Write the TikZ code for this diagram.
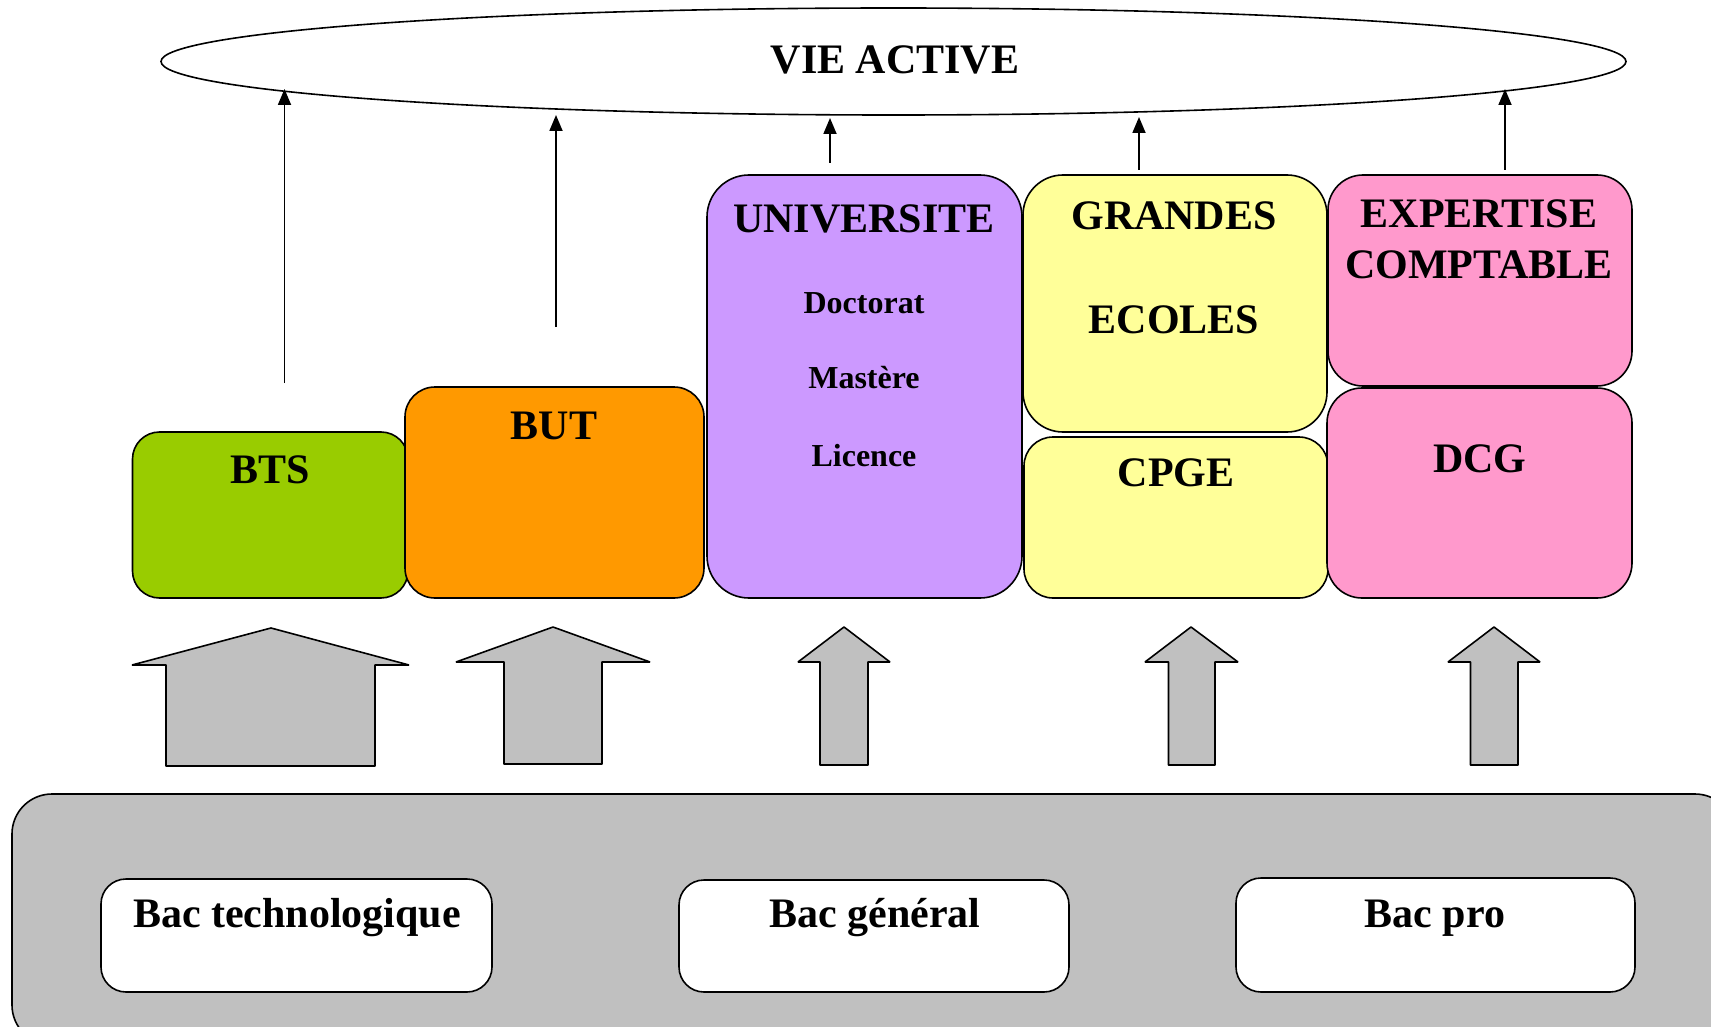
\documentclass[tikz,border=0pt]{standalone}
\usepackage{fontspec}
\setmainfont{Liberation Serif}
\usetikzlibrary{shapes.geometric,arrows.meta}
\definecolor{cgreen}{HTML}{99CC00}
\definecolor{corange}{HTML}{FF9900}
\definecolor{cpurple}{HTML}{CC99FF}
\definecolor{cyellow}{HTML}{FFFF99}
\definecolor{cpink}{HTML}{FF99CC}
\definecolor{cgray}{HTML}{C0C0C0}
\tikzset{
  rbox/.style={draw, line width=1.6pt, rounded corners=#1, inner sep=0pt},
  ttl/.style={font=\fontsize{42}{48}\selectfont\bfseries, anchor=base, inner sep=0pt},
  subttl/.style={font=\fontsize{32}{36}\selectfont\bfseries, anchor=base, inner sep=0pt},
  blk/.style={fill=cgray, draw, line width=1.6pt, line join=bevel},
  thinarrow/.style={line width=1.8pt, -{Triangle[length=16pt,width=13pt]}}
}
\begin{document}
\begin{tikzpicture}[x=1pt,y=-1pt]
\useasboundingbox (0,0) rectangle (1711,1027);
\clip (0,0) rectangle (1711,1027);
% top ellipse
\node[draw, ellipse, line width=1.6pt, minimum width=1465pt, minimum height=107pt, inner sep=0pt] (vie) at (893.5,61.5) {};
\node[ttl] (vietxt) at (895,74) {VIE ACTIVE};
% upper boxes
\node[rbox=27pt, fill=cgreen, minimum width=275.5pt, minimum height=166pt] (bts) at (270.25,515) {};
\node[rbox=30pt, fill=corange, minimum width=299pt, minimum height=211pt] (but) at (554.5,492.5) {};
\node[rbox=42pt, fill=cpurple, minimum width=315pt, minimum height=423pt] (univ) at (864.5,386.5) {};
\node[rbox=40pt, fill=cyellow, minimum width=304pt, minimum height=257pt] (ge) at (1175,303.5) {};
\node[rbox=29pt, fill=cyellow, minimum width=304pt, minimum height=161pt] (cpge) at (1176,517.5) {};
\node[rbox=35pt, fill=cpink, minimum width=304pt, minimum height=211pt] (expert) at (1480,280.5) {};
\node[rbox=35pt, fill=cpink, minimum width=305pt, minimum height=210pt] (dcg) at (1479.5,493) {};
% texts
\node[ttl] (btst) at (270,483) {BTS};
\node[ttl] (butt) at (554,439) {BUT};
\node[ttl] (univt) at (864,233) {UNIVERSITE};
\node[subttl] (doct) at (864,313) {Doctorat};
\node[subttl] (mast) at (864,388) {Mastère};
\node[subttl] (lict) at (864,466) {Licence};
\node[ttl] (get1) at (1174,230) {GRANDES};
\node[ttl] (get2) at (1174,333) {ECOLES};
\node[ttl] (cpget) at (1176,486) {CPGE};
\node[ttl] (expt1) at (1479,228) {EXPERTISE};
\node[ttl] (expt2) at (1479,278) {COMPTABLE};
\node[ttl] (dcgt) at (1480,472) {DCG};
% thin arrows
\coordinate (s1) at (284.5,383); \coordinate (e1) at (284.5,89);
\coordinate (s2) at (556,327);   \coordinate (e2) at (556,115);
\coordinate (s3) at (830,163);   \coordinate (e3) at (830,118);
\coordinate (s4) at (1139,170);  \coordinate (e4) at (1139,117);
\coordinate (s5) at (1505,170);  \coordinate (e5) at (1505,89);
\draw[thinarrow] (s1) -- (e1);
\draw[thinarrow] (s2) -- (e2);
\draw[thinarrow] (s3) -- (e3);
\draw[thinarrow] (s4) -- (e4);
\draw[thinarrow] (s5) -- (e5);
% block arrows
\draw[blk] (166,766) -- (166,665) -- (132,665) -- (271,628) -- (409,665) -- (375,665) -- (375,766) -- cycle;
\draw[blk] (504,764) -- (504,662) -- (456,662) -- (553,627) -- (650,662) -- (602,662) -- (602,764) -- cycle;
\draw[blk] (820,765) -- (820,662) -- (798,662) -- (844,627) -- (890,662) -- (868,662) -- (868,765) -- cycle;
\draw[blk] (1168.5,765) -- (1168.5,662) -- (1145,662) -- (1191,627) -- (1238,662) -- (1215,662) -- (1215,765) -- cycle;
\draw[blk] (1470.5,765) -- (1470.5,662) -- (1448,662) -- (1494,627) -- (1540,662) -- (1518,662) -- (1518,765) -- cycle;
% bottom band
\node[rbox=40pt, fill=cgray, minimum width=1723pt, minimum height=251pt] (bac) at (873.5,919.5) {};
\node[rbox=25pt, fill=white, minimum width=391pt, minimum height=113pt] (btech) at (296.5,935.5) {};
\node[rbox=25pt, fill=white, minimum width=390pt, minimum height=112pt] (bgen) at (874,936) {};
\node[rbox=25pt, fill=white, minimum width=399pt, minimum height=114pt] (bpro) at (1435.5,935) {};
\node[ttl] (btecht) at (297,927) {Bac technologique};
\node[ttl] (bgent) at (875,927) {Bac général};
\node[ttl] (bprot) at (1435,927) {Bac pro};
\end{tikzpicture}
\end{document}
